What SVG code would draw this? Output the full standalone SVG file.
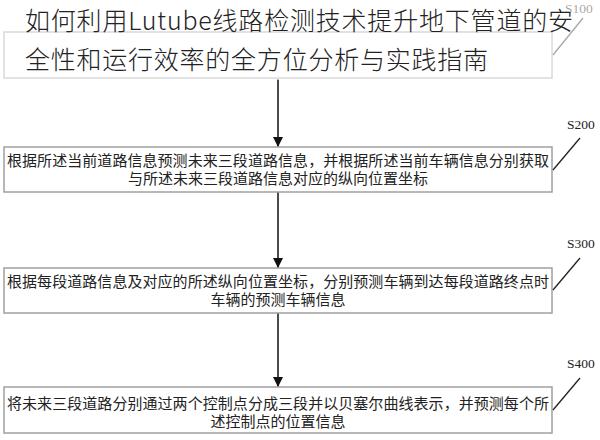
<svg xmlns="http://www.w3.org/2000/svg" width="600" height="440" viewBox="0 0 600 440">
<defs>
<marker id="arr" viewBox="0 0 10 12" refX="10" refY="6" markerWidth="10" markerHeight="12" markerUnits="userSpaceOnUse" orient="auto">
<path d="M0,1 L10,6 L0,11 Z" fill="#111"/>
</marker>
</defs>
<style>
.box{fill:#fff;stroke:#a0a0a0;stroke-width:1.5}
.txt{font-family:"Liberation Serif","Noto Sans CJK SC",serif;font-size:15px;fill:#222;text-anchor:middle}
.lbl{font-family:"Liberation Serif",serif;font-size:13.5px;fill:#222}
.lead{stroke:#222;stroke-width:1.3;fill:none}
.conn{stroke:#111;stroke-width:1.5;fill:none}
.title{font-family:"Noto Sans CJK SC","Noto Sans",sans-serif;font-size:25px;font-weight:300;fill:#222}
</style>
<rect width="600" height="440" fill="#fff"/>
<g id="connectors">
<line class="conn" x1="278" y1="79" x2="278" y2="147" marker-end="url(#arr)"/>
<line class="conn" x1="278" y1="192" x2="278" y2="268" marker-end="url(#arr)"/>
<line class="conn" x1="278" y1="313" x2="278" y2="387" marker-end="url(#arr)"/>
</g>
<g id="S100">
<rect class="box" x="4" y="32" width="548" height="46"/>
<line class="lead" x1="553" y1="55" x2="583" y2="18"/>
<text class="lbl" x="565" y="13">S100</text>
</g>
<g id="S200">
<rect class="box" x="4" y="147" width="548" height="45"/>
<text class="txt" x="278" y="165.5" textLength="542">根据所述当前道路信息预测未来三段道路信息，并根据所述当前车辆信息分别获取</text>
<text class="txt" x="278" y="183.5">与所述未来三段道路信息对应的纵向位置坐标</text>
<line class="lead" x1="553" y1="170" x2="580" y2="138"/>
<text class="lbl" x="567" y="129">S200</text>
</g>
<g id="S300">
<rect class="box" x="4" y="268" width="548" height="45"/>
<text class="txt" x="278" y="286.5" textLength="542">根据每段道路信息及对应的所述纵向位置坐标，分别预测车辆到达每段道路终点时</text>
<text class="txt" x="278" y="304.5">车辆的预测车辆信息</text>
<line class="lead" x1="553" y1="290" x2="580" y2="258"/>
<text class="lbl" x="567" y="248">S300</text>
</g>
<g id="S400">
<rect class="box" x="4" y="387" width="548" height="46"/>
<text class="txt" x="278" y="408.5" textLength="542">将未来三段道路分别通过两个控制点分成三段并以贝塞尔曲线表示，并预测每个所</text>
<text class="txt" x="278" y="426.5">述控制点的位置信息</text>
<line class="lead" x1="553" y1="410" x2="580" y2="378"/>
<text class="lbl" x="567" y="368">S400</text>
</g>
<g id="title">
<rect x="0" y="0" width="600" height="80" fill="#fff" opacity="0.6"/>
<text class="title" x="25" y="30" textLength="548" lengthAdjust="spacing">如何利用Lutube线路检测技术提升地下管道的安</text>
<text class="title" x="25" y="69" textLength="463" lengthAdjust="spacing">全性和运行效率的全方位分析与实践指南</text>
</g>
</svg>
